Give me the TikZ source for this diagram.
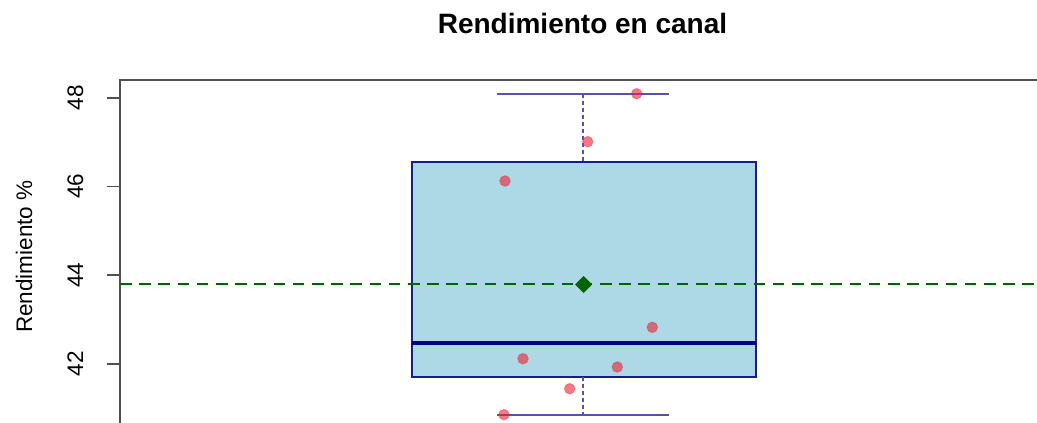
\documentclass[tikz,border=0pt]{standalone}
\usepackage{fontspec}
\setmainfont{Liberation Sans}
\definecolor{boxfill}{HTML}{ADD8E6}
\definecolor{boxline}{HTML}{1A1A96}
\definecolor{medline}{HTML}{00008B}
\definecolor{whisk}{rgb}{0.33,0.33,0.68}
\definecolor{meangreen}{HTML}{006400}
\definecolor{axisgray}{HTML}{505050}
\definecolor{ptred}{HTML}{F02030}
\tikzset{
  axisline/.style={draw=axisgray, line width=1.8pt},
  whiskline/.style={draw=whisk, line width=1.7pt},
  whiskdash/.style={draw=whisk, line width=1.7pt, dash pattern=on 4pt off 3pt},
  pt/.style={fill=ptred, fill opacity=0.6, draw=ptred, draw opacity=0.35, line width=1pt},
  ticklab/.style={rotate=90, anchor=base, font=\fontsize{22.5}{26}\selectfont, inner sep=0pt},
}
\begin{document}
\begin{tikzpicture}[x=1pt, y=-1pt]
\useasboundingbox (0,0) rectangle (1037,423);
% title
\node[anchor=base, font=\bfseries\fontsize{28}{32}\selectfont, inner sep=0pt] (title) at (582.5,33) {Rendimiento en canal};
% axes
\draw[axisline] (120,423) -- (120,80) -- (1037,80);
\foreach \v/\n in {42/t42,44/t44,46/t46,48/t48}{
  \pgfmathsetmacro{\yy}{275-(\v-44)*44.3}
  \draw[axisline] (107,\yy) -- (120,\yy);
  \node[ticklab] (\n) at (83,\yy) {\v};
}
\node[ticklab] (ylab) at (32,256.7) {Rendimiento \%};
% box
\fill[boxfill] (412,162.3) rectangle (756,377.3);
\draw[boxline, line width=1.9pt] (412,162.3) rectangle (756,377.3);
\draw[medline, line width=4pt] (412,343) -- (756,343);
% whiskers
\draw[whiskdash] (583,93.7) -- (583,162.3);
\draw[whiskdash] (583,377.3) -- (583,414.7);
\draw[whiskline] (497,93.7) -- (669,93.7);
\draw[whiskline] (497,414.7) -- (669,414.7);
% mean line
\draw[meangreen, line width=2.8pt, dash pattern=on 11.5pt off 7.7pt] (120,284) -- (1037,284);
% points
\foreach \px/\py in {636.7/93.7, 587.7/141.7, 505/181, 652.3/327.3, 523/358.7, 617.3/367, 569.7/388.7, 504/414.7}{
  \path[pt] (\px,\py) circle[radius=5.3];
}
% mean diamond
\fill[meangreen] (583.5,276) -- (592,284.5) -- (583.5,293) -- (575,284.5) -- cycle;
\end{tikzpicture}
\end{document}
